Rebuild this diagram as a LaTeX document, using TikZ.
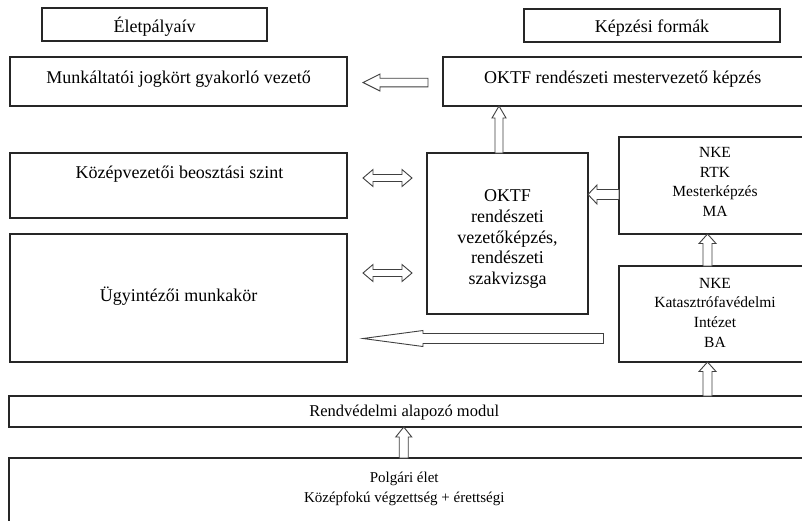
\documentclass[tikz,border=0pt]{standalone}
\usepackage{fontspec}
\setmainfont{Liberation Serif}
\usetikzlibrary{calc}
\tikzset{
  box/.style={draw=black!85, line width=1.1pt, inner sep=0pt, outer sep=0pt, anchor=north west},
  arrowline/.style={draw=black!75, line width=0.9pt, fill=white, line join=miter},
  bigtxt/.style={font=\fontsize{18}{21}\selectfont, inner sep=0pt},
  midtxt/.style={font=\fontsize{16.5}{20}\selectfont, inner sep=0pt},
  smalltxt/.style={font=\fontsize{15.5}{19.7}\selectfont, inner sep=0pt, align=center},
}
\newcommand\blkarrow[5]{%
  \coordinate (ba-s) at #1; \coordinate (ba-t) at #2;
  \coordinate (ba-h) at ($(ba-t)!#5!(ba-s)$);
  \draw[arrowline] ($(ba-s)!#3!90:(ba-t)$) -- ($(ba-h)!#3!90:(ba-t)$) -- ($(ba-h)!#4!90:(ba-t)$) -- (ba-t)
    -- ($(ba-h)!#4!-90:(ba-t)$) -- ($(ba-h)!#3!-90:(ba-t)$) -- ($(ba-s)!#3!-90:(ba-t)$) -- cycle;}
\newcommand\dblarrow[5]{%
  \coordinate (da-a) at #1; \coordinate (da-b) at #2;
  \coordinate (da-ha) at ($(da-a)!#5!(da-b)$);
  \coordinate (da-hb) at ($(da-b)!#5!(da-a)$);
  \draw[arrowline] (da-a) -- ($(da-ha)!#4!90:(da-b)$) -- ($(da-ha)!#3!90:(da-b)$) -- ($(da-hb)!#3!-90:(da-a)$)
    -- ($(da-hb)!#4!-90:(da-a)$) -- (da-b) -- ($(da-hb)!#4!90:(da-a)$) -- ($(da-hb)!#3!90:(da-a)$)
    -- ($(da-ha)!#3!-90:(da-b)$) -- ($(da-ha)!#4!-90:(da-b)$) -- cycle;}
\begin{document}
\begin{tikzpicture}[x=1pt, y=-1pt]
\useasboundingbox (0,0) rectangle (802,520);
\fill[white] (0,0) rectangle (802,520);
% boxes
\node[box, minimum width=225pt, minimum height=33pt] (lifet) at (42,8) {};
\node[box, minimum width=256pt, minimum height=33pt] (formt) at (524,9) {};
\node[box, minimum width=337pt, minimum height=49pt] (munk) at (10,57) {};
\node[box, minimum width=359.5pt, minimum height=49pt] (mester) at (443,57) {};
\node[box, minimum width=337pt, minimum height=65pt] (kozep) at (10,153) {};
\node[box, minimum width=337pt, minimum height=128pt] (ugy) at (10,234) {};
\node[box, minimum width=161pt, minimum height=161pt] (oktf) at (427,153) {};
\node[box, minimum width=192pt, minimum height=97pt] (rtk) at (619,137) {};
\node[box, minimum width=192pt, minimum height=96pt] (kat) at (619,266) {};
\node[box, minimum width=793.5pt, minimum height=31pt] (rend) at (9,396) {};
\node[box, minimum width=793.5pt, minimum height=66pt] (polg) at (9,458) {};
% texts
\node[bigtxt, anchor=base] (t-lifet) at ($(lifet.north)+(0,24)$) {Életpályaív};
\node[bigtxt, anchor=base] (t-formt) at ($(formt.north)+(0,23)$) {Képzési formák};
\node[bigtxt, anchor=base] (t-munk) at ($(munk.north)+(0,26)$) {Munkáltatói jogkört gyakorló vezető};
\node[bigtxt, anchor=base] (t-mester) at ($(mester.north)+(0,26)$) {OKTF rendészeti mestervezető képzés};
\node[bigtxt, anchor=base] (t-kozep) at ($(kozep.north)+(1,25)$) {Középvezetői beosztási szint};
\node[bigtxt, anchor=base] (t-ugy) at ($(ugy.north)+(0,67)$) {Ügyintézői munkakör};
\node[bigtxt, align=center, font=\fontsize{18}{20.8}\selectfont] (t-oktf) at ($(oktf.center)+(0,5.5)$)
  {OKTF\\rendészeti\\vezetőképzés,\\rendészeti\\szakvizsga};
\node[smalltxt] (t-rtk) at ($(rtk.center)+(0,-3.5)$) {NKE\\RTK\\Mesterképzés\\MA};
\node[smalltxt] (t-kat) at ($(kat.center)+(0,-1.5)$) {NKE\\Katasztrófavédelmi\\Intézet\\BA};
\node[midtxt, anchor=base] (t-rend) at ($(rend.north)+(-1.5,20)$) {Rendvédelmi alapozó modul};
\node[midtxt, anchor=base, font=\fontsize{15}{20}\selectfont] (t-polg1) at ($(polg.north)+(-1.5,24)$) {Polgári élet};
\node[midtxt, anchor=base, font=\fontsize{15}{20}\selectfont] (t-polg2) at ($(polg.north)+(-1.5,44)$) {Középfokú végzettség + érettségi};
% connector coordinates
\coordinate (a1s) at ($(mester.west)+(-15,1)$);
\coordinate (a1t) at ($(munk.east)+(16,1)$);
\coordinate (d1a) at ($(kozep.north east)+(16,25)$);
\coordinate (d1b) at ($(oktf.north west)+(-15,25)$);
\coordinate (d2a) at ($(ugy.north east)+(16,39)$);
\coordinate (d2b) at ($(oktf.west |- ugy.north)+(-15,39)$);
\coordinate (u1s) at ($(oktf.north)+(-8.5,0)$);
\coordinate (u1t) at (u1s |- mester.south);
\coordinate (r1s) at ($(rtk.north west)+(0,57.5)$);
\coordinate (r1t) at (oktf.east |- r1s);
\coordinate (bgs) at ($(kat.north west)+(-15.5,72.5)$);
\coordinate (bgt) at ($(ugy.east |- bgs)+(16,0)$);
\coordinate (k1s) at ($(kat.north)+(-7.5,0)$);
\coordinate (k1t) at (k1s |- rtk.south);
\coordinate (k2s) at (k1s |- rend.north);
\coordinate (k2t) at (k1s |- kat.south);
\coordinate (p1s) at ($(polg.north)+(-2,0)$);
\coordinate (p1t) at (p1s |- rend.south);
% arrows
\blkarrow{(a1s)}{(a1t)}{4.3pt}{8.5pt}{17pt}
\dblarrow{(d1a)}{(d1b)}{3.5pt}{8.5pt}{10pt}
\dblarrow{(d2a)}{(d2b)}{3.5pt}{8.5pt}{10pt}
\blkarrow{(u1s)}{(u1t)}{4pt}{7pt}{12pt}
\blkarrow{(r1s)}{(r1t)}{5pt}{9.5pt}{9pt}
\blkarrow{(bgs)}{(bgt)}{5pt}{8pt}{60pt}
\blkarrow{(k1s)}{(k1t)}{4.5pt}{8.5pt}{9.5pt}
\blkarrow{(k2s)}{(k2t)}{4.5pt}{8.5pt}{9.5pt}
\blkarrow{(p1s)}{(p1t)}{4.5pt}{8pt}{10pt}
\end{tikzpicture}
\end{document}
